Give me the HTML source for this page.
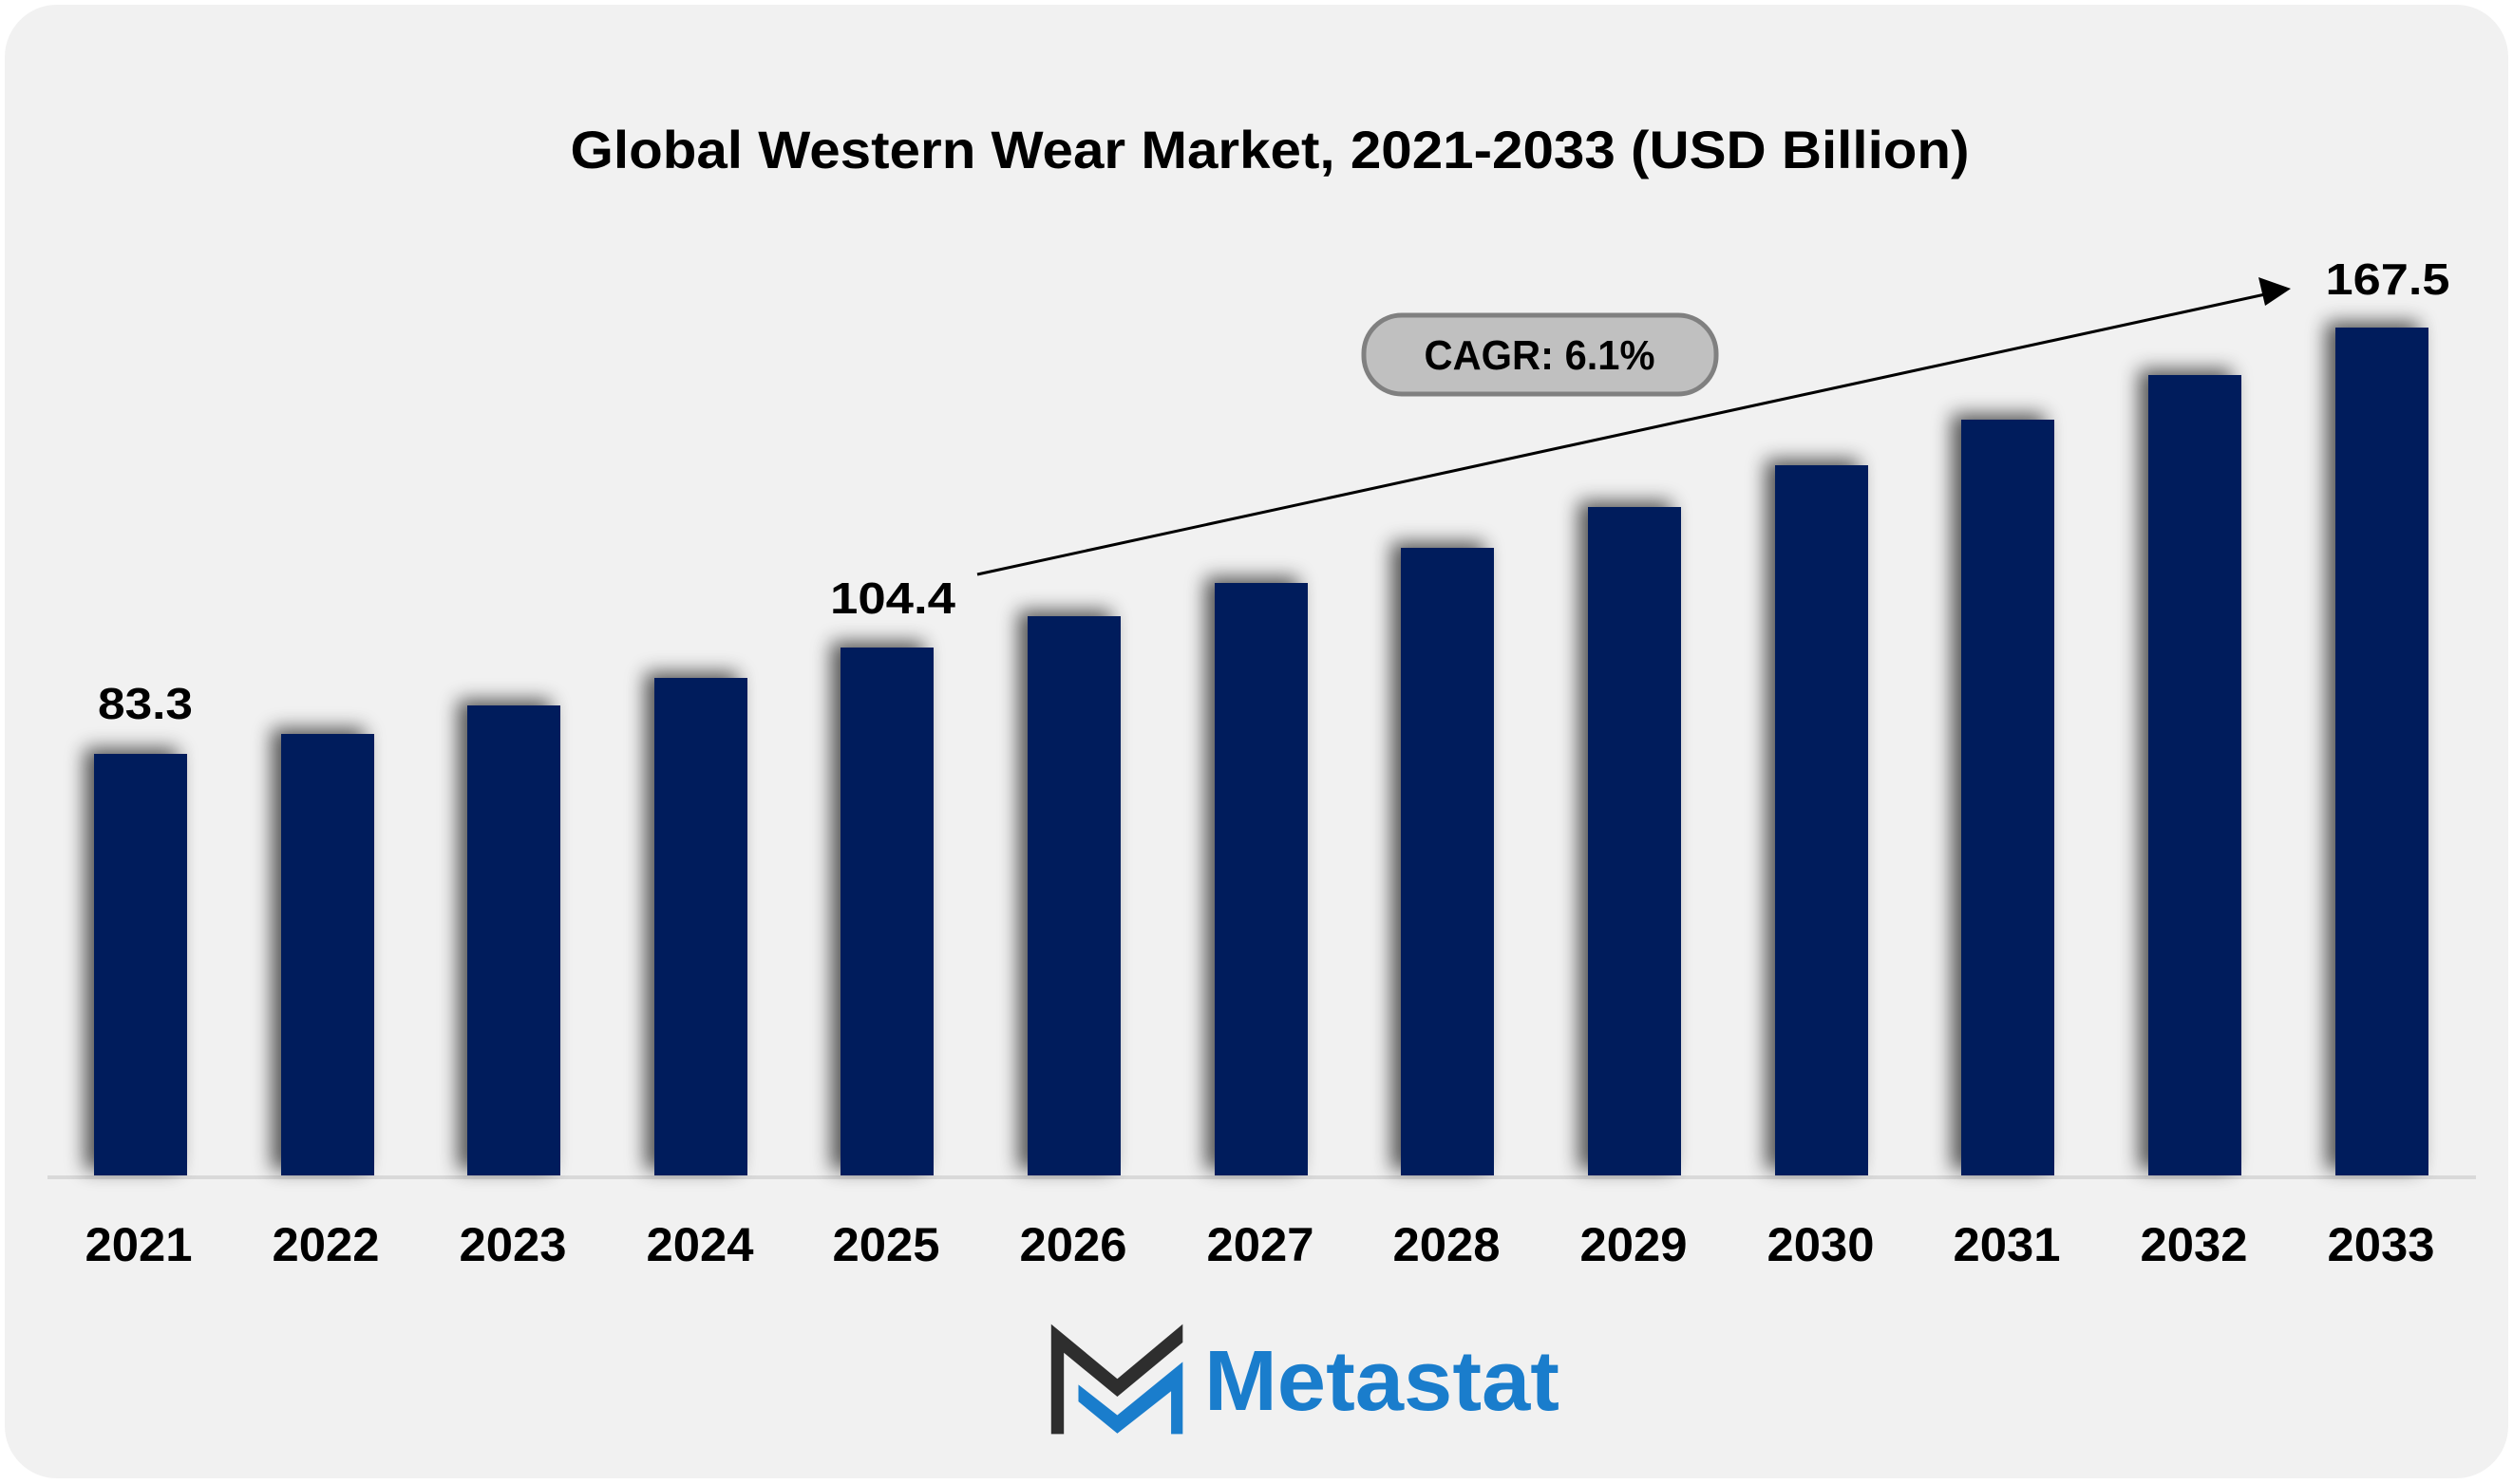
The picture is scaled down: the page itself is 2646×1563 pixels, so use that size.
<!DOCTYPE html>
<html><head><meta charset="utf-8"><style>
html,body{margin:0;padding:0;background:#fff;}
svg{display:block;}
text{font-family:"Liberation Sans",sans-serif;font-weight:bold;fill:#000;}
</style></head><body>
<svg width="2646" height="1563" viewBox="0 0 2646 1563" xmlns="http://www.w3.org/2000/svg">
<defs>
<filter id="sh" x="-50%" y="-20%" width="200%" height="140%">
<feGaussianBlur in="SourceAlpha" stdDeviation="10"/>
<feOffset dx="-10" dy="-6" result="b"/>
<feComponentTransfer><feFuncA type="linear" slope="0.65"/></feComponentTransfer>
<feMerge><feMergeNode/><feMergeNode in="SourceGraphic"/></feMerge>
</filter>
</defs>
<rect x="5" y="5" width="2636" height="1552" rx="55" fill="#f1f1f1"/>
<text x="1337" y="177" font-size="56" text-anchor="middle" textLength="1473" lengthAdjust="spacingAndGlyphs">Global Western Wear Market, 2021-2033 (USD Billion)</text>
<rect x="50" y="1238" width="2557" height="4" fill="#d9d9d9"/>
<g fill="#001f5c" filter="url(#sh)">
<rect x="99" y="794" width="98" height="444"/>
<rect x="296" y="773" width="98" height="465"/>
<rect x="492" y="743" width="98" height="495"/>
<rect x="689" y="714" width="98" height="524"/>
<rect x="885" y="682" width="98" height="556"/>
<rect x="1082" y="649" width="98" height="589"/>
<rect x="1279" y="614" width="98" height="624"/>
<rect x="1475" y="577" width="98" height="661"/>
<rect x="1672" y="534" width="98" height="704"/>
<rect x="1869" y="490" width="98" height="748"/>
<rect x="2065" y="442" width="98" height="796"/>
<rect x="2262" y="395" width="98" height="843"/>
<rect x="2459" y="345" width="98" height="893"/>
</g>
<g font-size="50" text-anchor="middle">
<text x="146" y="1328" textLength="113" lengthAdjust="spacingAndGlyphs">2021</text>
<text x="343" y="1328" textLength="113" lengthAdjust="spacingAndGlyphs">2022</text>
<text x="540" y="1328" textLength="113" lengthAdjust="spacingAndGlyphs">2023</text>
<text x="737" y="1328" textLength="113" lengthAdjust="spacingAndGlyphs">2024</text>
<text x="933" y="1328" textLength="113" lengthAdjust="spacingAndGlyphs">2025</text>
<text x="1130" y="1328" textLength="113" lengthAdjust="spacingAndGlyphs">2026</text>
<text x="1327" y="1328" textLength="113" lengthAdjust="spacingAndGlyphs">2027</text>
<text x="1523" y="1328" textLength="113" lengthAdjust="spacingAndGlyphs">2028</text>
<text x="1720" y="1328" textLength="113" lengthAdjust="spacingAndGlyphs">2029</text>
<text x="1917" y="1328" textLength="113" lengthAdjust="spacingAndGlyphs">2030</text>
<text x="2113" y="1328" textLength="113" lengthAdjust="spacingAndGlyphs">2031</text>
<text x="2310" y="1328" textLength="113" lengthAdjust="spacingAndGlyphs">2032</text>
<text x="2507" y="1328" textLength="113" lengthAdjust="spacingAndGlyphs">2033</text>
</g>
<g font-size="46" text-anchor="middle">
<text x="153" y="757" textLength="100" lengthAdjust="spacingAndGlyphs">83.3</text>
<text x="940" y="646" textLength="132" lengthAdjust="spacingAndGlyphs">104.4</text>
<text x="2514" y="310" textLength="131" lengthAdjust="spacingAndGlyphs">167.5</text>
</g>
<line x1="1029" y1="605" x2="2385" y2="310" stroke="#000" stroke-width="3"/>
<polygon points="2412,304 2378,292 2385,322" fill="#000"/>
<rect x="1436" y="332" width="371" height="83" rx="40" fill="#c0c0c0" stroke="#808080" stroke-width="5"/>
<text x="1621" y="389" font-size="44" text-anchor="middle" textLength="243" lengthAdjust="spacingAndGlyphs">CAGR: 6.1%</text>
<g transform="translate(1080,1370) scale(0.3827,0.3425)">
<polygon points="70,72 252,240 432,72 432,128 252,295 105,160 105,410 70,410" fill="#2e2e2e"/>
<polygon points="145,258 252,352 432,188 432,410 400,410 400,278 252,408 145,310" fill="#1a7dcc"/>
</g>
<text x="1268" y="1485" font-size="90" style="fill:#1a7dcc" textLength="374" lengthAdjust="spacingAndGlyphs">Metastat</text>
</svg>
</body></html>
